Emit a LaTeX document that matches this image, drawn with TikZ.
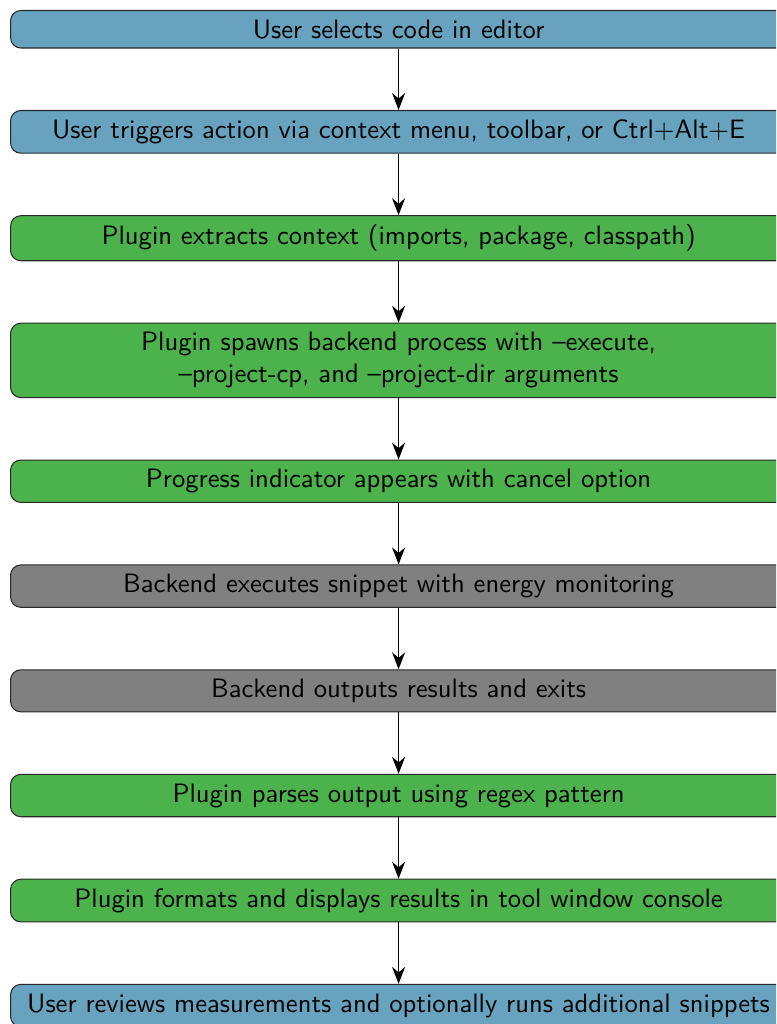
\documentclass[tikz,border=0pt]{standalone}
\usetikzlibrary{positioning,arrows.meta}
\renewcommand{\familydefault}{\sfdefault}

\definecolor{userblue}{RGB}{103,163,190}
\definecolor{plugingreen}{RGB}{76,178,76}
\definecolor{backendgray}{RGB}{128,128,128}
\definecolor{edgegray}{RGB}{40,40,40}

\tikzset{
  stepbase/.style={
    draw=edgegray, line width=0.4pt, rounded corners=4pt,
    minimum width=298.8pt, inner xsep=4pt, inner ysep=3.55pt,
    align=center, font=\fontsize{10.25}{12.3}\selectfont, text=black
  },
  userbox/.style={stepbase, fill=userblue},
  pluginbox/.style={stepbase, fill=plugingreen},
  backendbox/.style={stepbase, fill=backendgray},
  flow/.style={-{Stealth[length=6.5pt,width=5pt]}, line width=0.7pt, black}
}

\begin{document}
\begin{tikzpicture}[x=0.385pt, y=-0.385pt, node distance=23.65pt]
  \useasboundingbox (0,0) rectangle (776,1024);
  \clip (0,0) rectangle (776,1024);

  \node[userbox, anchor=north west] (s1) at (10,10) {User selects code in editor};
  \node[userbox, below=of s1] (s2) {User triggers action via context menu, toolbar, or Ctrl+Alt+E};
  \node[pluginbox, below=of s2] (s3) {Plugin extracts context (imports, package, classpath)};
  \node[pluginbox, below=of s3] (s4) {Plugin spawns backend process with --execute,\\--project-cp, and --project-dir arguments};
  \node[pluginbox, below=of s4] (s5) {Progress indicator appears with cancel option};
  \node[backendbox, below=of s5] (s6) {Backend executes snippet with energy monitoring};
  \node[backendbox, below=of s6] (s7) {Backend outputs results and exits};
  \node[pluginbox, below=of s7] (s8) {Plugin parses output using regex pattern};
  \node[pluginbox, below=of s8] (s9) {Plugin formats and displays results in tool window console};
  \node[userbox, below=of s9] (s10) {User reviews measurements and optionally runs additional snippets};

  \foreach \a/\b in {s1/s2,s2/s3,s3/s4,s4/s5,s5/s6,s6/s7,s7/s8,s8/s9,s9/s10}
    \draw[flow] (\a.south) -- (\b.north);
\end{tikzpicture}
\end{document}
